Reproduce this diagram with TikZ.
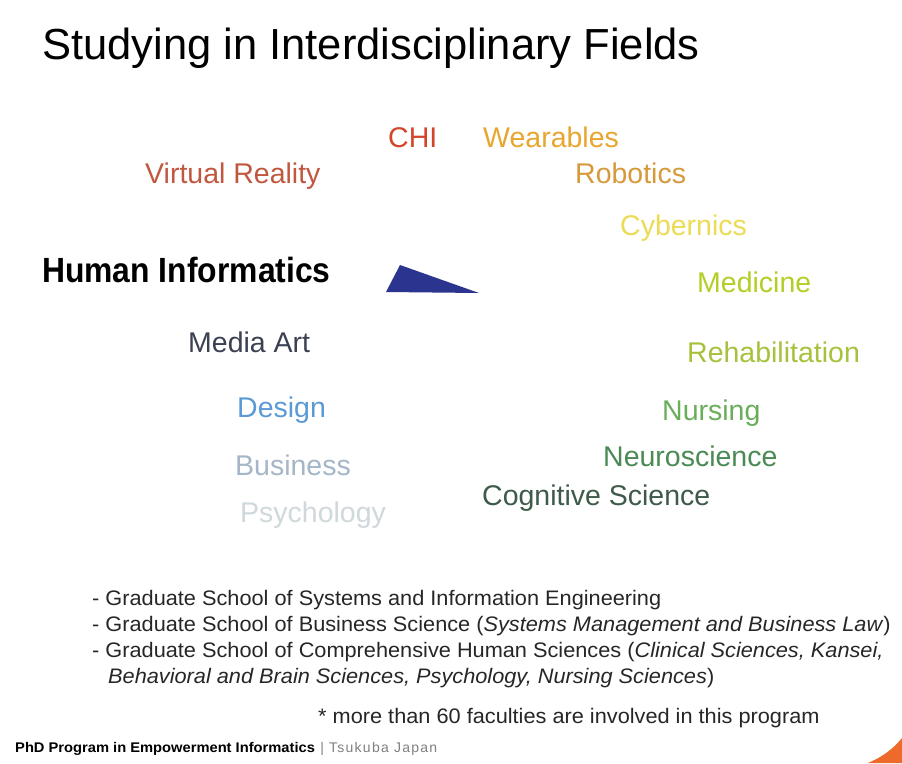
\documentclass[tikz,border=0pt]{standalone}
\usepackage{fontspec}
\setmainfont{Liberation Sans}
\newfontfamily\widefont[FakeStretch=1.035]{Liberation Sans}
\newfontfamily\footfont[FakeStretch=1.05]{Liberation Sans}
\newfontfamily\condfont[FakeStretch=0.91]{Liberation Sans}
\newfontfamily\placefont[LetterSpace=9]{Liberation Sans}
\definecolor{colchi}{HTML}{D2452A}
\definecolor{colwear}{HTML}{E9A62E}
\definecolor{colvr}{HTML}{C2573F}
\definecolor{colrob}{HTML}{D69A3C}
\definecolor{colcyb}{HTML}{ECDC55}
\definecolor{colmed}{HTML}{B3CF26}
\definecolor{colmedia}{HTML}{3B4152}
\definecolor{colrehab}{HTML}{A6C23C}
\definecolor{coldesign}{HTML}{5C9AD6}
\definecolor{colnurs}{HTML}{6AAE5A}
\definecolor{colneuro}{HTML}{4A8A55}
\definecolor{colbus}{HTML}{A4B6C8}
\definecolor{colcog}{HTML}{3E5A48}
\definecolor{colpsy}{HTML}{CFD8DA}
\definecolor{coltri}{HTML}{2B3590}
\definecolor{colcorner}{HTML}{EE6A2A}
\begin{document}
\begin{tikzpicture}[x=1pt, y=-1pt,
		word/.style={anchor=base west, inner sep=0pt, font=\fontsize{28.5}{32}\selectfont},
		school/.style={anchor=base west, inner sep=0pt, text=black!85, font=\widefont\fontsize{21}{26}\selectfont}]
		\useasboundingbox[fill=white] (0,0) rectangle (902,763);

		\node[anchor=base west, inner sep=0pt, font=\fontsize{43.5}{50}\selectfont] (title) at (42,59) {Studying in Interdisciplinary Fields};

		\node[word, text=colchi] (chi) at (388,147) {CHI};
		\node[word, text=colwear] (wear) at (483,147) {Wearables};
		\node[word, text=colvr] (vr) at (145,183) {Virtual Reality};
		\node[word, text=colrob] (rob) at (575,183) {Robotics};
		\node[word, text=colcyb] (cyb) at (620,235) {Cybernics};
		\node[anchor=base west, inner sep=0pt, font=\condfont\bfseries\fontsize{35}{40}\selectfont] (hi) at (42,282) {Human Informatics};
		\node[word, text=colmed] (med) at (697,292) {Medicine};
		\node[word, text=colmedia] (media) at (188,352) {Media Art};
		\node[word, text=colrehab] (rehab) at (687,362) {Rehabilitation};
		\node[word, text=coldesign] (design) at (237,417) {Design};
		\node[word, text=colnurs] (nurs) at (662,420) {Nursing};
		\node[word, text=colneuro] (neuro) at (603,466) {Neuroscience};
		\node[word, text=colbus] (bus) at (235,475) {Business};
		\node[word, text=colcog] (cog) at (482,505) {Cognitive Science};
		\node[word, text=colpsy] (psy) at (240,522) {Psychology};

		\fill[coltri] (386,292) -- (400,265) -- (479,293) -- cycle;

		\node[school] (sys) at (92,605) {- Graduate School of Systems and Information Engineering};
		\node[school] (bsc) at (92,631) {- Graduate School of Business Science (\textit{Systems Management and Business Law})};
		\node[school] (chs) at (92,657) {- Graduate School of Comprehensive Human Sciences (\textit{Clinical Sciences, Kansei,}};
		\node[school] (chs2) at (108,683) {\textit{Behavioral and Brain Sciences, Psychology, Nursing Sciences})};
		\node[school] (note) at (318,723) {* more than 60 faculties are involved in this program};

		\node[anchor=base west, inner sep=0pt, font=\footfont\bfseries\fontsize{14}{16}\selectfont] (prog) at (15,752) {PhD Program in Empowerment Informatics};
		\node[anchor=base west, inner sep=0pt, text=gray, font=\placefont\fontsize{14}{16}\selectfont] (place) at ([xshift=5pt]prog.base east) {| Tsukuba Japan};

		\fill[colcorner] (902,738) .. controls (892,750) and (882,757) .. (868,763) -- (902,763) -- cycle;
	\end{tikzpicture}
\end{document}
